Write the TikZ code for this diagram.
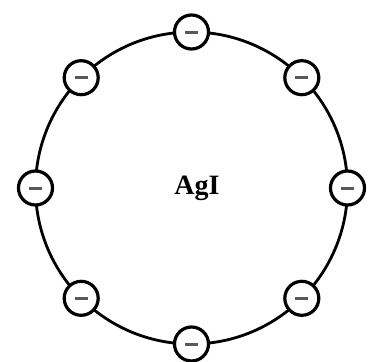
\documentclass[tikz,border=0pt]{standalone}
\usepackage{fontspec}
\setmainfont{Liberation Serif}
\usetikzlibrary{calc}
\begin{document}
\begin{tikzpicture}[x=1pt,y=1pt,
  ion/.style={circle,draw=black,fill=white,line width=3.2pt,minimum size=34pt,inner sep=0pt},
  minus/.style={line width=3pt,draw=black!65}]
\useasboundingbox (0,0) rectangle (368,-362);
\coordinate (c) at (191.5,-188);
\draw[line width=2.8pt] (c) circle[radius=156];
\node[font=\bfseries\fontsize{28}{32}\selectfont] (lab) at (197,-188) {AgI};
\foreach \a [count=\i] in {90,45,0,-45,-90,-135,180,135}{
  \node[ion] (n\i) at ($(c)+(\a:156)$) {};
  \draw[minus] ($(n\i.center)+(-6.5,0)$) -- ($(n\i.center)+(6.5,0)$);
}
\end{tikzpicture}
\end{document}
